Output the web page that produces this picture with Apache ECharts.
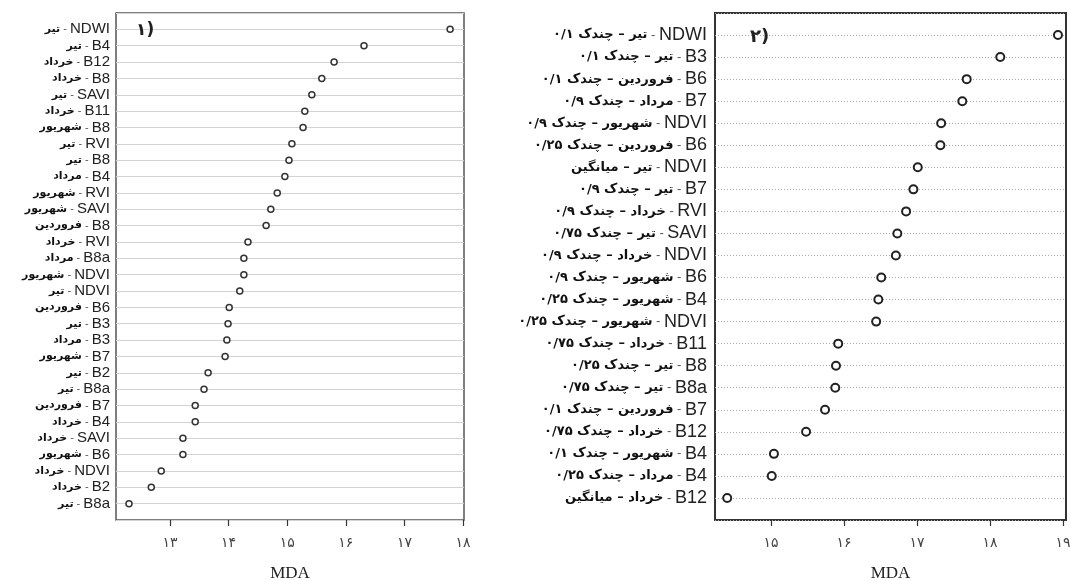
<!DOCTYPE html>
<html lang="fa" style="height: 100%">
<head>
  <meta charset="utf-8">
</head>
<body style="height: 100%; margin: 0; background: #fff">
  <div id="container" style="width: 1070px; height: 580px"></div>

  <script type="text/javascript" src="https://cdn.jsdelivr.net/npm/echarts@6.0.0/dist/echarts.min.js"></script>

  <script type="text/javascript">
    // panel 1: band + month
    const leftBands = ['NDWI', 'B4', 'B12', 'B8', 'SAVI', 'B11', 'B8', 'RVI', 'B8', 'B4',
      'RVI', 'SAVI', 'B8', 'RVI', 'B8a', 'NDVI', 'NDVI', 'B6', 'B3', 'B3',
      'B7', 'B2', 'B8a', 'B7', 'B4', 'SAVI', 'B6', 'NDVI', 'B2', 'B8a'];
    const leftMonths = ['تیر', 'تیر', 'خرداد', 'خرداد', 'تیر', 'خرداد', 'شهریور', 'تیر', 'تیر', 'مرداد',
      'شهریور', 'شهریور', 'فروردین', 'خرداد', 'مرداد', 'شهریور', 'تیر', 'فروردین', 'تیر', 'مرداد',
      'شهریور', 'تیر', 'تیر', 'فروردین', 'خرداد', 'خرداد', 'شهریور', 'خرداد', 'خرداد', 'تیر'];
    const leftMDA = [17.78, 16.31, 15.80, 15.59, 15.42, 15.30, 15.27, 15.08, 15.03, 14.96,
      14.83, 14.72, 14.64, 14.33, 14.26, 14.26, 14.19, 14.01, 13.99, 13.97,
      13.94, 13.65, 13.58, 13.43, 13.43, 13.22, 13.22, 12.85, 12.68, 12.30];
    const leftTicks = [13, 14, 15, 16, 17, 18];

    // panel 2: band + month + statistic
    const rightBands = ['NDWI', 'B3', 'B6', 'B7', 'NDVI', 'B6', 'NDVI', 'B7', 'RVI', 'SAVI', 'NDVI',
      'B6', 'B4', 'NDVI', 'B11', 'B8', 'B8a', 'B7', 'B12', 'B4', 'B4', 'B12'];
    const rightMonths = ['تیر', 'تیر', 'فروردین', 'مرداد', 'شهریور', 'فروردین', 'تیر', 'تیر', 'خرداد', 'تیر', 'خرداد',
      'شهریور', 'شهریور', 'شهریور', 'خرداد', 'تیر', 'تیر', 'فروردین', 'خرداد', 'شهریور', 'مرداد', 'خرداد'];
    const rightStats = ['چندک ۰/۱', 'چندک ۰/۱', 'چندک ۰/۱', 'چندک ۰/۹', 'چندک ۰/۹', 'چندک ۰/۲۵', 'میانگین',
      'چندک ۰/۹', 'چندک ۰/۹', 'چندک ۰/۷۵', 'چندک ۰/۹', 'چندک ۰/۹', 'چندک ۰/۲۵', 'چندک ۰/۲۵',
      'چندک ۰/۷۵', 'چندک ۰/۲۵', 'چندک ۰/۷۵', 'چندک ۰/۱', 'چندک ۰/۷۵', 'چندک ۰/۱', 'چندک ۰/۲۵', 'میانگین'];
    const rightMDA = [18.93, 18.14, 17.68, 17.62, 17.33, 17.32, 17.01, 16.95, 16.85, 16.73, 16.71,
      16.51, 16.47, 16.44, 15.92, 15.89, 15.88, 15.74, 15.48, 15.04, 15.01, 14.40];
    const rightTicks = [15, 16, 17, 18, 19];

    const faDigits = '۰۱۲۳۴۵۶۷۸۹';
    function toFa(n) {
      return String(n).replace(/\d/g, d => faDigits[d]);
    }

    var dom = document.getElementById('container');
    var myChart = echarts.init(dom, null, { renderer: 'canvas' });

    function xAxis(gridIndex, min, max, ticks) {
      return {
        type: 'value',
        gridIndex: gridIndex,
        min: min,
        max: max,
        axisLine: { show: false, onZero: false },
        splitLine: { show: false },
        axisTick: { show: true, customValues: ticks, length: 6, lineStyle: { color: '#333', width: 1.2 } },
        axisLabel: {
          customValues: ticks,
          formatter: toFa,
          margin: 16,
          fontSize: 14,
          fontFamily: 'DejaVu Sans',
          color: '#444'
        },
        name: 'MDA',
        nameLocation: 'middle',
        nameGap: 45,
        nameTextStyle: { fontFamily: 'Liberation Serif', fontSize: 17, color: '#222' }
      };
    }

    function yAxis(gridIndex, n, labelFn, margin, rich, splitStyle) {
      return {
        type: 'value',
        gridIndex: gridIndex,
        inverse: true,
        min: -1,
        max: n,
        interval: 1,
        axisLine: { show: false, onZero: false },
        axisTick: { show: false },
        splitLine: { show: true, lineStyle: splitStyle },
        axisLabel: {
          margin: margin,
          formatter: function (v) {
            const i = Math.round(v);
            if (i < 0 || i >= n) return '';
            return labelFn(i);
          },
          rich: rich
        }
      };
    }

    const option = {
      animation: false,
      backgroundColor: '#fff',
      title: [
        { text: '۱)', left: 131, top: 17, textStyle: { fontSize: 17, fontWeight: 'bold', color: '#222', fontFamily: 'DejaVu Sans' } },
        { text: '۲)', left: 745, top: 23, textStyle: { fontSize: 18, fontWeight: 'bold', color: '#222', fontFamily: 'DejaVu Sans' } }
      ],
      grid: [
        { left: 116, top: 13, width: 348, height: 507, outerBoundsMode: 'none', containLabel: false,
          show: true, borderColor: '#555', borderWidth: 1.5, backgroundColor: 'transparent' },
        { left: 715, top: 13, right: 4, height: 507, outerBoundsMode: 'none', containLabel: false,
          show: true, borderColor: '#333', borderWidth: 2, backgroundColor: 'transparent' }
      ],
      xAxis: [
        xAxis(0, 12.078, 18.017, leftTicks),
        xAxis(1, 14.233, 19.04, rightTicks)
      ],
      yAxis: [
        yAxis(0, leftBands.length, function (i) {
          return '{fa|' + leftMonths[i] + '}{d| - }{en|' + leftBands[i] + '}';
        }, 6, {
          fa: { fontFamily: 'DejaVu Sans', fontWeight: 'bold', fontSize: 11, color: '#111' },
          d: { fontFamily: 'Liberation Sans', fontSize: 11, color: '#555' },
          en: { fontFamily: 'Liberation Sans', fontSize: 15, color: '#222' }
        }, { color: '#d3d3d3', width: 1 }),
        yAxis(1, rightBands.length, function (i) {
          return '{fa|' + rightMonths[i] + ' – ' + rightStats[i] + '}{d| - }{en|' + rightBands[i] + '}';
        }, 8, {
          fa: { fontFamily: 'DejaVu Sans', fontWeight: 'bold', fontSize: 13, color: '#111' },
          d: { fontFamily: 'Liberation Sans', fontSize: 13, color: '#555' },
          en: { fontFamily: 'Liberation Sans', fontSize: 18, color: '#222' }
        }, { color: '#a8a8a8', width: 1, type: [1, 2] })
      ],
      series: [
        {
          type: 'scatter',
          xAxisIndex: 0,
          yAxisIndex: 0,
          symbol: 'circle',
          symbolSize: 6,
          itemStyle: { color: '#fff', borderColor: '#333', borderWidth: 1.5, opacity: 1 },
          data: leftMDA.map((v, i) => [v, i])
        },
        {
          type: 'scatter',
          xAxisIndex: 1,
          yAxisIndex: 1,
          symbol: 'circle',
          symbolSize: 8,
          itemStyle: { color: '#fff', borderColor: '#222', borderWidth: 2, opacity: 1 },
          data: rightMDA.map((v, i) => [v, i])
        }
      ]
    };

    myChart.setOption(option);
    window.addEventListener('resize', myChart.resize);
  </script>
</body>
</html>
